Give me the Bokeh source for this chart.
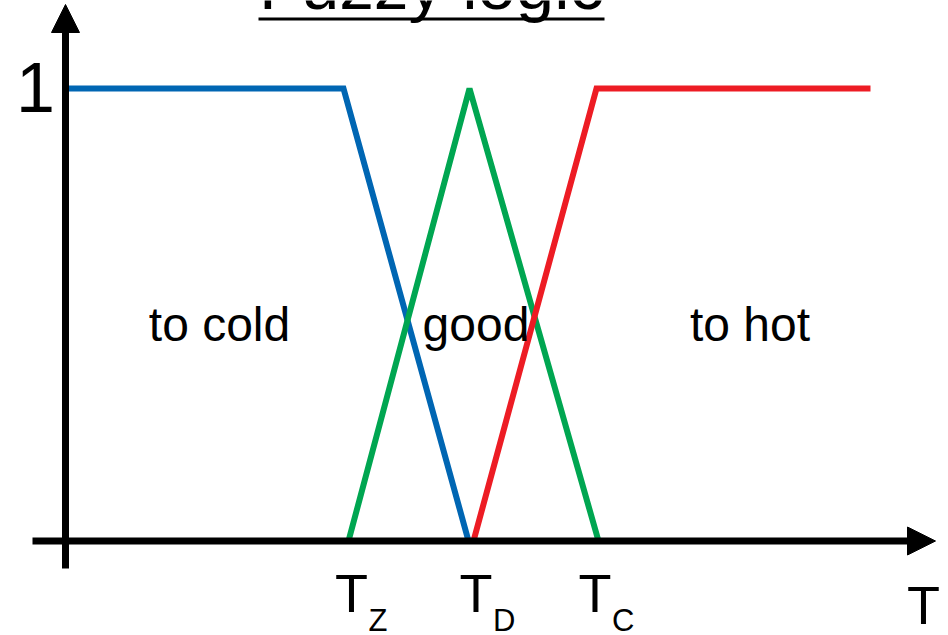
from bokeh.plotting import figure
from bokeh.models import Range1d, Arrow, NormalHead
from bokeh.embed import file_html
from bokeh.resources import INLINE
from bokeh.core.properties import value

# ---- data ----
title_text = "Fuzzy logic"
blue_x = [0.0, 2.78, 4.03]      # "to cold" membership
blue_y = [1.0, 1.0, 0.0]
green_x = [2.83, 4.04, 5.33]    # "good" membership
green_y = [0.0, 1.0, 0.0]
red_x = [4.08, 5.31, 8.05]      # "to hot" membership
red_y = [0.0, 1.0, 1.0]

region_labels = ["to cold", "good", "to hot"]
region_x = [1.54, 4.105, 6.845]

tick_main = ["T", "T", "T"]
tick_subs = ["Z", "D", "C"]
tick_x = [2.86, 4.105, 5.295]
axis_name = "T"
axis_name_x = 8.58
y_tick_label = "1"

FONT = "Liberation Sans"
BLUE = "#0066B3"
GREEN = "#00A651"
RED = "#ED1C24"

# ---- figure (covers the window) ----
W, H = 948, 635
PX_X = 100.0      # px per x unit
PX_Y = 452.5      # px per membership unit
X0, Y0 = 65.0, 540.5   # page position of origin

p = figure(width=W, height=H, output_backend="svg", toolbar_location=None,
           x_axis_type=None, y_axis_type=None, min_border=0,
           x_range=Range1d(-X0 / PX_X, (W - X0) / PX_X),
           y_range=Range1d(-(H - Y0) / PX_Y, Y0 / PX_Y))
p.outline_line_color = None
p.xgrid.visible = False
p.ygrid.visible = False
p.background_fill_color = "white"
p.border_fill_color = "white"

def py(px):  # page px (from top) -> data y
    return (Y0 - px) / PX_Y

def px_x(px):
    return (px - X0) / PX_X

def ty(baseline_px, size):  # compensate renderer's baseline shift
    return py(baseline_px - 0.4 * size)

# membership lines
p.line(blue_x, blue_y, line_color=BLUE, line_width=6, line_join="miter")
p.line(green_x, green_y, line_color=GREEN, line_width=6, line_join="bevel")
p.line(red_x, red_y, line_color=RED, line_width=6, line_join="miter")

# axes with arrow heads
p.add_layout(Arrow(end=NormalHead(size=28, fill_color="black", line_color="black"),
                   x_start=px_x(32), y_start=0.0, x_end=px_x(935), y_end=0.0,
                   line_width=7, line_color="black"))
p.add_layout(Arrow(end=NormalHead(size=28, fill_color="black", line_color="black"),
                   x_start=0.0, y_start=py(568), x_end=0.0, y_end=py(4),
                   line_width=7, line_color="black"))

# title with underline
title_x = px_x(431)
p.text(x=[title_x], y=[ty(13, 69)], text=[title_text], text_font=value(FONT),
       text_font_size="69px", text_align="center", text_baseline="alphabetic",
       text_color="black")
half_w = 173 / PX_X
p.segment(x0=[title_x - half_w], y0=[py(18.5)], x1=[title_x + half_w], y1=[py(18.5)],
          line_color="black", line_width=3)

# region labels
p.text(x=region_x, y=[ty(343, 48)] * 3, text=region_labels, text_font=value(FONT),
       text_font_size="48px", text_align="center", text_baseline="alphabetic",
       text_color="black")

# x tick labels with subscripts
p.text(x=tick_x, y=[ty(614, 54)] * 3, text=tick_main, text_font=value(FONT),
       text_font_size="54px", text_align="center", text_baseline="alphabetic",
       text_color="black")
p.text(x=tick_x, y=[ty(632, 31)] * 3, text=tick_subs, text_font=value(FONT),
       text_font_size="31px", text_align="left", text_baseline="alphabetic",
       x_offset=17, text_color="black")
p.text(x=[axis_name_x], y=[ty(626, 54)], text=[axis_name], text_font=value(FONT),
       text_font_size="54px", text_align="center", text_baseline="alphabetic",
       text_color="black")

# y tick label
p.text(x=[px_x(35)], y=[ty(115, 70)], text=[y_tick_label], text_font=value(FONT),
       text_font_size="70px", text_align="center", text_baseline="alphabetic",
       text_color="black")

open("out.html", "w").write(file_html(p, INLINE))
